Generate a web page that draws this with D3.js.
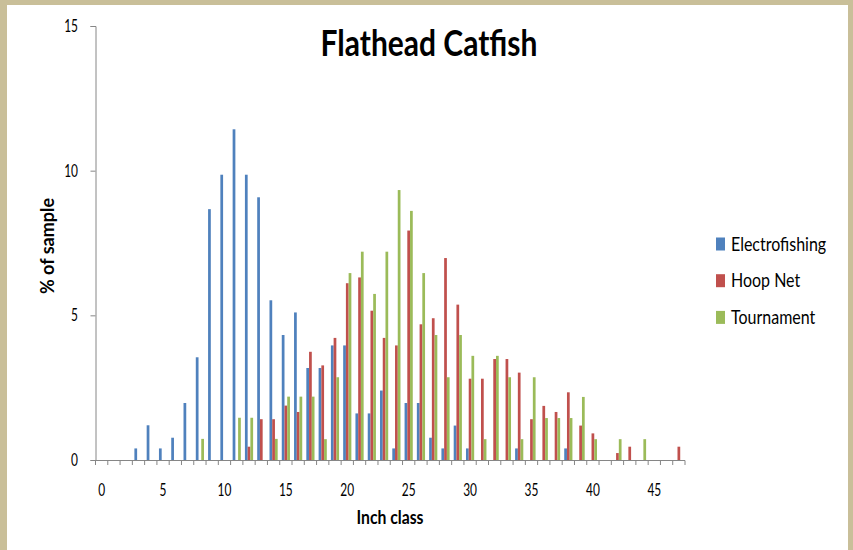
<!DOCTYPE html>
<html>
<head>
<meta charset="utf-8">
<script src="https://cdn.jsdelivr.net/npm/d3@7"></script>
<style>
  body { margin: 0; background: #c9bf99; }
  svg { display: block; }
  text { font-family: Lato, "Open Sans", sans-serif; fill: #000; }
</style>
</head>
<body>
<svg width="853" height="550"></svg>
<script>
// inch classes 0..47
var inchClasses = d3.range(0, 48);
var seriesNames = ['Electrofishing', 'Hoop Net', 'Tournament'];
var colors = ['#4f81bd', '#c0504d', '#9bbb59'];

var electrofishing = [0, 0, 0, 0.4, 1.2, 0.4, 0.77, 1.97, 3.55, 8.67,
    9.86, 11.43, 9.86, 9.08, 5.52, 4.32, 5.1, 3.18, 3.18, 3.96,
    3.96, 1.61, 1.61, 2.4, 0.4, 1.97, 1.97, 0.77, 0.4, 1.19,
    0.4, 0, 0, 0, 0.4, 0, 0, 0, 0.4, 0,
    0, 0, 0, 0, 0, 0, 0, 0];
var hoopNet = [0, 0, 0, 0, 0, 0, 0, 0, 0, 0,
    0, 0, 0.46, 1.41, 1.41, 1.88, 1.66, 3.74, 3.27, 4.22,
    6.11, 6.31, 5.16, 4.22, 3.96, 7.93, 4.69, 4.9, 6.98, 5.37,
    2.81, 2.81, 3.49, 3.49, 3.02, 1.41, 1.87, 1.66, 2.34, 1.19,
    0.92, 0, 0.24, 0.46, 0, 0, 0, 0.46];
var tournament = [0, 0, 0, 0, 0, 0, 0, 0, 0.73, 0,
    0, 1.46, 1.46, 0, 0.73, 2.19, 2.19, 2.19, 0.72, 2.86,
    6.46, 7.2, 5.74, 7.2, 9.33, 8.61, 6.46, 4.32, 2.86, 4.32,
    3.6, 0.72, 3.6, 2.86, 0.72, 2.86, 1.45, 1.45, 1.45, 2.18,
    0.72, 0, 0.72, 0, 0.72, 0, 0, 0];
var yTicks = [0, 5, 10, 15];
var xLabelClasses = [0, 5, 10, 15, 20, 25, 30, 35, 40, 45];

var allSeries = [electrofishing, hoopNet, tournament];

var svg = d3.select('svg');

// text helper: the original's fonts look stretched tall, so scale them
function label(parent, x, y, str, size, sx, sy, opts) {
    opts = opts || {};
    var t = parent.append('text')
        .attr('transform', 'translate(' + x + ',' + y + ')' + (opts.rotate ? ' rotate(' + opts.rotate + ')' : '') + ' scale(' + sx + ',' + sy + ')')
        .attr('text-anchor', opts.anchor || 'middle')
        .attr('font-size', size)
        .text(str);
    if (opts.bold) t.attr('font-weight', 'bold');
    return t;
}

// white chart area inside the tan frame
svg.append('rect')
    .attr('x', 7).attr('y', 5)
    .attr('width', 841).attr('height', 545)
    .attr('fill', '#fff');

var xScale = d3.scaleBand()
    .domain(inchClasses)
    .range([95.5, 685])
    .paddingInner(0).paddingOuter(0);

var bw = xScale.bandwidth();
// gap width 150% like Excel
var gap = bw * 1.5 / 4.5;
var xInner = d3.scaleBand()
    .domain(seriesNames)
    .range([gap / 2, bw - gap / 2]);

var yScale = d3.scaleLinear()
    .domain([0, 15])
    .range([460, 26]);

// bars
allSeries.forEach(function(vals, si) {
    svg.append('g')
        .selectAll('rect')
        .data(vals.map((v, i) => ({ cls: inchClasses[i], v: v })).filter(d => d.v > 0))
        .enter()
        .append('rect')
        .attr('x', d => xScale(d.cls) + xInner(seriesNames[si]))
        .attr('width', xInner.bandwidth())
        .attr('y', d => yScale(d.v))
        .attr('height', d => yScale(0) - yScale(d.v))
        .attr('fill', colors[si]);
});

// y axis
var yAxis = d3.axisLeft(yScale).tickValues(yTicks).tickSize(5).tickFormat('');
var gy = svg.append('g')
    .attr('transform', 'translate(95.5,0)')
    .call(yAxis);
gy.select('.domain').attr('stroke', '#868686');
gy.selectAll('.tick line').attr('stroke', '#868686');
yTicks.forEach(function(v) {
    label(svg, 78, yScale(v) + 6, v, 14, 0.85, 1.25, { anchor: 'end' });
});

// x axis: ticks between categories
var gx = svg.append('g');
gx.append('line')
    .attr('x1', 95.5).attr('x2', 685)
    .attr('y1', 460.5).attr('y2', 460.5)
    .attr('stroke', '#868686');
gx.selectAll('line.tk')
    .data(inchClasses.concat([48]))
    .enter()
    .append('line')
    .attr('class', 'tk')
    .attr('x1', d => d < 48 ? xScale(d) : xScale.range()[1])
    .attr('x2', d => d < 48 ? xScale(d) : xScale.range()[1])
    .attr('y1', 460.5).attr('y2', 465)
    .attr('stroke', '#868686');
xLabelClasses.forEach(function(c) {
    label(gx, xScale(c) + bw / 2, 496, c, 14, 0.85, 1.25);
});

// title
label(svg, 429, 56, 'Flathead Catfish', 30, 1, 1.2, { bold: true });

// axis titles
label(svg, 390, 524, 'Inch class', 15, 1.05, 1.2, { bold: true });
label(svg, 54, 246, '% of sample', 15, 1.2, 1.2, { bold: true, rotate: -90 });

// legend
var legend = svg.append('g').attr('transform', 'translate(716,0)');
seriesNames.forEach(function(name, i) {
    var cy = 244 + i * 36.7;
    legend.append('rect')
        .attr('x', 0).attr('y', cy - 6.5)
        .attr('width', 9).attr('height', 13)
        .attr('fill', colors[i]);
    label(legend, 15, cy + 6.5, name, 16, 1, 1.2, { anchor: 'start' });
});
</script>
</body>
</html>
